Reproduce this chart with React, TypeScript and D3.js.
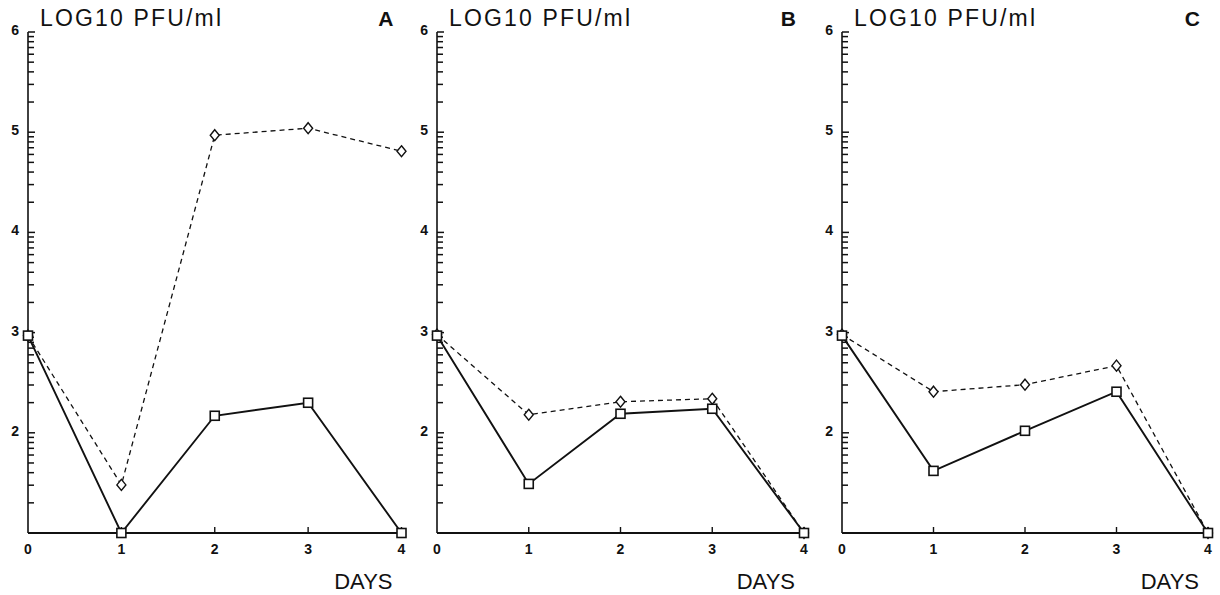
import React, { useEffect, useRef } from "react";
import * as d3 from "d3";

// values are log10 PFU/ml
const days = [0, 1, 2, 3, 4];
const panelNames = ["A", "B", "C"];

const solidA = [2.97, 1.0, 2.17, 2.3, 1.0];
const dashedA = [2.97, 1.48, 4.97, 5.04, 4.81];

const solidB = [2.97, 1.49, 2.19, 2.24, 1.0];
const dashedB = [2.98, 2.18, 2.31, 2.34, 1.0];

const solidC = [2.97, 1.62, 2.02, 2.41, 1.0];
const dashedC = [2.98, 2.41, 2.48, 2.67, 1.0];

const yTickLabels = [2, 3, 4, 5, 6];
const xTickLabels = [0, 1, 2, 3, 4];

const titleText = "LOG10 PFU/ml";
const xAxisText = "DAYS";

const W = 1220;
const H = 595;
const FONT = "'Liberation Sans', Arial, Helvetica, sans-serif";

export default function App() {
    const svgRef = useRef<SVGSVGElement | null>(null);

    useEffect(() => {
        const svg = d3.select(svgRef.current);
        svg.selectAll("*").remove();

        const panels = [
            { name: panelNames[0], solid: solidA, dashed: dashedA, x0: 28, x1: 401.5 },
            { name: panelNames[1], solid: solidB, dashed: dashedB, x0: 437, x1: 804 },
            { name: panelNames[2], solid: solidC, dashed: dashedC, x0: 842, x1: 1208 },
        ];

        const y = d3.scaleLinear().domain([1, 6]).range([533, 32]);

        // log style minor ticks inside each decade
        const minorTicks: number[] = [];
        d3.range(1, 6).forEach((dec) => {
            d3.range(2, 10).forEach((k) => minorTicks.push(dec + Math.log10(k)));
        });

        panels.forEach((p) => {
            const x = d3.scaleLinear().domain([0, 4]).range([p.x0, p.x1]);
            const g = svg.append("g");

            // === axes ===
            g.append("line")
                .attr("x1", p.x0).attr("x2", p.x0)
                .attr("y1", y(6)).attr("y2", y(1))
                .attr("stroke", "#111").attr("stroke-width", 1.6);
            g.append("line")
                .attr("x1", p.x0).attr("x2", x(4) + 2)
                .attr("y1", y(1)).attr("y2", y(1))
                .attr("stroke", "#111").attr("stroke-width", 2.2);

            g.selectAll("line.minor")
                .data(minorTicks)
                .enter()
                .append("line")
                .attr("class", "minor")
                .attr("x1", p.x0).attr("x2", p.x0 + 6)
                .attr("y1", (d) => y(d)).attr("y2", (d) => y(d))
                .attr("stroke", "#111").attr("stroke-width", 1.5);

            g.selectAll("line.major")
                .data(yTickLabels)
                .enter()
                .append("line")
                .attr("class", "major")
                .attr("x1", p.x0).attr("x2", p.x0 + 7)
                .attr("y1", (d) => y(d)).attr("y2", (d) => y(d))
                .attr("stroke", "#111").attr("stroke-width", 1.5);

            g.selectAll("text.ylab")
                .data(yTickLabels)
                .enter()
                .append("text")
                .attr("class", "ylab")
                .attr("x", p.x0 - 9)
                .attr("y", (d) => y(d) - 2)
                .attr("dy", "0.35em")
                .attr("text-anchor", "end")
                .attr("font-family", FONT)
                .attr("font-weight", "bold")
                .attr("font-size", 14)
                .attr("fill", "#111")
                .text((d) => d);

            g.selectAll("line.xtick")
                .data(xTickLabels.slice(1))
                .enter()
                .append("line")
                .attr("class", "xtick")
                .attr("x1", (d) => x(d)).attr("x2", (d) => x(d))
                .attr("y1", y(1)).attr("y2", y(1) - 6)
                .attr("stroke", "#111").attr("stroke-width", 1.4);

            g.selectAll("text.xlab")
                .data(xTickLabels)
                .enter()
                .append("text")
                .attr("class", "xlab")
                .attr("x", (d) => x(d))
                .attr("y", y(1) + 21)
                .attr("text-anchor", "middle")
                .attr("font-family", FONT)
                .attr("font-weight", "bold")
                .attr("font-size", 14)
                .attr("fill", "#111")
                .text((d) => d);

            // === texts ===
            g.append("text")
                .attr("x", p.x0 + 12)
                .attr("y", 26)
                .attr("font-family", FONT)
                .attr("font-size", 23)
                .attr("textLength", 181)
                .attr("lengthAdjust", "spacing")
                .attr("fill", "#111")
                .text(titleText);

            g.append("text")
                .attr("x", x(4) - 8)
                .attr("y", 26)
                .attr("text-anchor", "end")
                .attr("font-family", FONT)
                .attr("font-weight", "bold")
                .attr("font-size", 21)
                .attr("fill", "#111")
                .text(p.name);

            g.append("text")
                .attr("x", x(4) - 9)
                .attr("y", 589)
                .attr("text-anchor", "end")
                .attr("font-family", FONT)
                .attr("font-size", 22)
                .attr("fill", "#111")
                .text(xAxisText);

            // === series ===
            const lineGen = d3.line<number>()
                .x((d, i) => x(days[i]))
                .y((d) => y(d));

            g.append("path")
                .datum(p.dashed)
                .attr("fill", "none")
                .attr("stroke", "#111")
                .attr("stroke-width", 1.3)
                .attr("stroke-dasharray", "5,4")
                .attr("d", lineGen);

            g.append("path")
                .datum(p.solid)
                .attr("fill", "none")
                .attr("stroke", "#111")
                .attr("stroke-width", 1.9)
                .attr("d", lineGen);

            g.selectAll("path.diamond")
                .data(p.dashed)
                .enter()
                .append("path")
                .attr("class", "diamond")
                .attr("d", (d, i) => {
                    const cx = x(days[i]);
                    const cy = y(d);
                    return `M${cx},${cy - 5.5}L${cx + 4.5},${cy}L${cx},${cy + 5.5}L${cx - 4.5},${cy}Z`;
                })
                .attr("fill", "#fff")
                .attr("stroke", "#111")
                .attr("stroke-width", 1.4);

            g.selectAll("rect.square")
                .data(p.solid)
                .enter()
                .append("rect")
                .attr("class", "square")
                .attr("x", (d, i) => x(days[i]) - 4.5)
                .attr("y", (d) => y(d) - 4.5)
                .attr("width", 9)
                .attr("height", 9)
                .attr("fill", "#fff")
                .attr("stroke", "#111")
                .attr("stroke-width", 1.6);
        });
    }, []);

    return (
        <svg
            ref={svgRef}
            width={W}
            height={H}
            style={{ position: "absolute", left: 0, top: 0, background: "#fff" }}
        ></svg>
    );
}
